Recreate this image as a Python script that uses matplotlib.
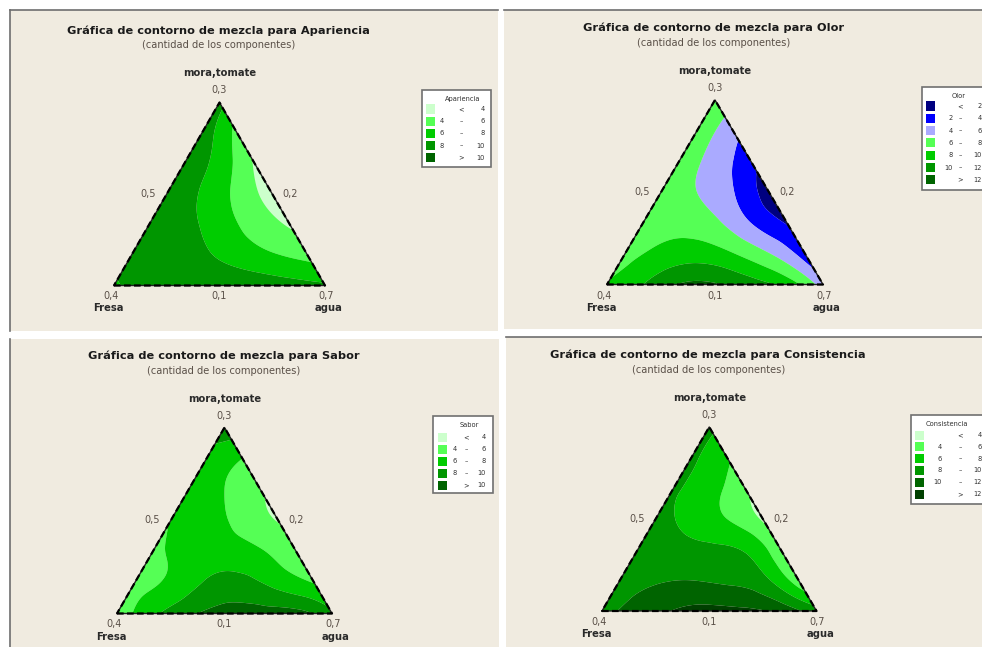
import numpy as np
import matplotlib
matplotlib.use("Agg")
import matplotlib.pyplot as plt
import matplotlib.tri as mtri
from matplotlib.patches import Rectangle

# ---------------------------------------------------------------------------
# Response values on a {3,6} simplex lattice.
# Row i: mora,tomate proportion = i/6 ; entry j: agua proportion = j/6 ;
# Fresa takes the rest.
# ---------------------------------------------------------------------------
apariencia = [
    [7.7, 9.0, 9.4, 9.5, 9.3, 8.8, 8.3],
    [9.0, 9.4, 8.4, 7.2, 6.2, 5.4],
    [9.3, 8.6, 7.0, 5.2, 3.8],
    [9.4, 7.8, 5.5, 3.2],
    [9.3, 7.2, 3.8],
    [9.2, 5.4],
    [8.8],
]
olor = [
    [8.2, 10.0, 12.1, 12.2, 10.9, 9.2, 5.0],
    [7.3, 8.6, 9.1, 8.1, 6.1, 3.0],
    [7.0, 7.3, 6.4, 4.0, 1.85],
    [7.0, 6.0, 4.1, 1.0],
    [7.1, 5.2, 2.6],
    [7.3, 4.7],
    [7.9],
]
sabor = [
    [4.3, 7.6, 9.6, 10.7, 10.8, 10.7, 8.5],
    [5.3, 6.4, 8.2, 8.6, 7.3, 5.9],
    [5.6, 6.8, 7.0, 6.2, 4.5],
    [6.1, 6.8, 5.3, 3.9],
    [6.8, 6.0, 4.3],
    [7.1, 6.0],
    [9.9],
]
consistencia = [
    [9.5, 10.7, 12.1, 12.7, 12.4, 11.4, 9.0],
    [9.2, 9.8, 10.0, 9.7, 8.6, 4.9],
    [8.9, 8.7, 8.4, 7.8, 4.4],
    [8.7, 7.4, 6.0, 3.75],
    [8.3, 6.8, 4.5],
    [8.4, 6.3],
    [8.6],
]

# contour breaks and legend rows
breaks_5 = [4, 6, 8, 10]
legend_5 = [("", "<", "4"), ("4", "–", "6"), ("6", "–", "8"),
            ("8", "–", "10"), ("", ">", "10")]
breaks_olor = [2, 4, 6, 8, 10, 12]
legend_olor = [("", "<", "2"), ("2", "–", "4"), ("4", "–", "6"), ("6", "–", "8"),
               ("8", "–", "10"), ("10", "–", "12"), ("", ">", "12")]
breaks_cons = [4, 6, 8, 10, 12]
legend_cons = [("", "<", "4"), ("4", "–", "6"), ("6", "–", "8"),
               ("8", "–", "10"), ("10", "–", "12"), ("", ">", "12")]

greens_5 = ["#ccffcc", "#55ff55", "#00cc00", "#009600", "#006400"]
colors_olor = ["#000080", "#0000ff", "#aaaaff", "#55ff55", "#00cc00", "#009600", "#006400"]
greens_6 = ["#ccffcc", "#55ff55", "#00cc00", "#009600", "#006400", "#004000"]

vertex_top = "mora,tomate"
vertex_left = "Fresa"
vertex_right = "agua"
tick_top, tick_left, tick_right = "0,3", "0,4", "0,7"
tick_mid_left, tick_mid_right, tick_mid_bottom = "0,5", "0,2", "0,1"
title_fmt = "Gráfica de contorno de mezcla para {}"
subtitle = "(cantidad de los componentes)"

# ---------------------------------------------------------------------------
W, H = 982, 647
fig = plt.figure(figsize=(W / 100, H / 100), dpi=100)
fig.patch.set_facecolor("white")
BG = "#f0ebe0"
FONT = "DejaVu Sans"


def fx(x):
    return x / W


def fy(y):
    return 1 - y / H


def ftext(x, y, s, **kw):
    kw.setdefault("family", FONT)
    return fig.text(fx(x), fy(y), s, **kw)


# panel backgrounds (pixel boxes) with their visible frame edges
panel_boxes = [(10, 10, 498, 331), (504, 10, 982, 329),
               (10, 339, 499, 647), (506, 337, 982, 647)]
for (x0, y0, x1, y1) in panel_boxes:
    fig.patches.append(Rectangle((fx(x0), fy(y1)), fx(x1 - x0), (y1 - y0) / H,
                                 transform=fig.transFigure, facecolor=BG,
                                 edgecolor="none", zorder=-5))
frame_lines = [((10, 10), (10, 331)), ((10, 10), (498, 10)), ((504, 10), (982, 10)),
               ((10, 339), (10, 647)), ((506, 337), (982, 337))]
for (p0, p1) in frame_lines:
    fig.add_artist(plt.Line2D([fx(p0[0]), fx(p1[0])], [fy(p0[1]), fy(p1[1])],
                              transform=fig.transFigure, color="#6e6e6e", lw=1.2))

# lattice geometry
N = 6
S3 = np.sqrt(3) / 2
pts_x, pts_y, index = [], [], {}
for i in range(N + 1):
    for j in range(N + 1 - i):
        index[(i, j)] = len(pts_x)
        a, c = i / N, j / N
        pts_x.append(c + a / 2)
        pts_y.append(a * S3)
triangles = []
for i in range(N):
    for j in range(N - i):
        triangles.append([index[(i, j)], index[(i, j + 1)], index[(i + 1, j)]])
        if j < N - i - 1:
            triangles.append([index[(i, j + 1)], index[(i + 1, j + 1)], index[(i + 1, j)]])
lattice = mtri.Triangulation(np.array(pts_x), np.array(pts_y), np.array(triangles))


def draw_panel(values, name, breaks, colors, legend_rows, tri_px, legend_box):
    lx, rx, by, ay = tri_px
    ax = fig.add_axes([fx(lx), fy(by), (rx - lx) / W, (by - ay) / H])
    ax.set_xlim(0, 1)
    ax.set_ylim(0, S3)
    ax.axis("off")
    z = np.array([v for row in values for v in row])
    interp = mtri.CubicTriInterpolator(lattice, z, kind="min_E")
    refiner = mtri.UniformTriRefiner(lattice)
    tri_r, z_r = refiner.refine_field(z, triinterpolator=interp, subdiv=5)
    levels = [-1e3] + list(breaks) + [1e3]
    ax.tricontourf(tri_r, z_r, levels=levels, colors=colors, antialiased=True)
    edge = np.array([[0, 0], [1, 0], [0.5, S3], [0, 0]])
    ax.plot(edge[:, 0], edge[:, 1], color="#202020", lw=1.0, clip_on=False)
    ax.plot(edge[:, 0], edge[:, 1], color="black", lw=1.6, ls=(0, (3, 1.5)),
            clip_on=False)

    cx = (lx + rx) / 2
    ftext(cx - 1, ay - 72, title_fmt.format(name), ha="center", va="center",
          fontsize=8.2, fontweight="bold", color="#1a1a1a")
    ftext(cx - 1, ay - 57, subtitle, ha="center", va="center",
          fontsize=7.1, color="#5a5048")
    lab = dict(fontsize=7.0, color="#5a5048", va="center")
    ftext(cx, ay - 29, vertex_top, ha="center", fontweight="bold", fontsize=7.2,
          color="#2a2a2a", va="center")
    ftext(cx, ay - 12, tick_top, ha="center", **lab)
    my = (ay + by) / 2
    ftext((lx + cx) / 2 - 19, my, tick_mid_left, ha="center", **lab)
    ftext((rx + cx) / 2 + 18, my, tick_mid_right, ha="center", **lab)
    ftext(lx - 3, by + 11, tick_left, ha="center", **lab)
    ftext(cx, by + 11, tick_mid_bottom, ha="center", **lab)
    ftext(rx + 1, by + 11, tick_right, ha="center", **lab)
    ftext(lx - 6, by + 23, vertex_left, ha="center", fontweight="bold",
          fontsize=7.2, color="#2a2a2a", va="center")
    ftext(rx + 4, by + 23, vertex_right, ha="center", fontweight="bold",
          fontsize=7.2, color="#2a2a2a", va="center")

    # legend box
    bx0, by0, bx1, by1, row0, step, cols = legend_box
    fig.patches.append(Rectangle((fx(bx0), fy(by1)), (bx1 - bx0) / W, (by1 - by0) / H,
                                 transform=fig.transFigure, facecolor="white",
                                 edgecolor="#707070", lw=1.2, zorder=2))
    ftext(cols[4], by0 + 9, name, ha="center", va="center", fontsize=4.8,
          color="#303030", zorder=3)
    for k, (lo, op, hi) in enumerate(legend_rows):
        yk = row0 + k * step
        fig.patches.append(Rectangle((fx(cols[0]), fy(yk + 4.5)), 9 / W, 9 / H,
                                     transform=fig.transFigure, facecolor=colors[k],
                                     edgecolor="none", zorder=3))
        t = dict(va="center", fontsize=4.8, color="#303030", zorder=3)
        ftext(cols[1], yk, lo, ha="right", **t)
        ftext(cols[2], yk, op, ha="center", **t)
        ftext(cols[3], yk, hi, ha="right", **t)


draw_panel(apariencia, "Apariencia", breaks_5, greens_5, legend_5,
           (114, 325, 285.5, 102.5),
           (422, 90, 491, 167, 109, 12.2, (426, 444, 461, 485, 463)))
draw_panel(olor, "Olor", breaks_olor, colors_olor, legend_olor,
           (607, 823, 284.5, 100),
           (922, 87, 990, 190, 106, 12.3, (926, 953, 960, 982, 959)))
draw_panel(sabor, "Sabor", breaks_5, greens_5, legend_5,
           (117, 332, 613.5, 427.5),
           (433, 416, 493, 493, 437, 12.0, (438, 457, 466, 486, 469)))
draw_panel(consistencia, "Consistencia", breaks_cons, greens_6, legend_cons,
           (602, 816.5, 611, 427),
           (911, 415, 990, 504, 435, 11.8, (915, 942, 960, 982, 947)))

fig.savefig("out.png", dpi=100, facecolor=fig.get_facecolor())
